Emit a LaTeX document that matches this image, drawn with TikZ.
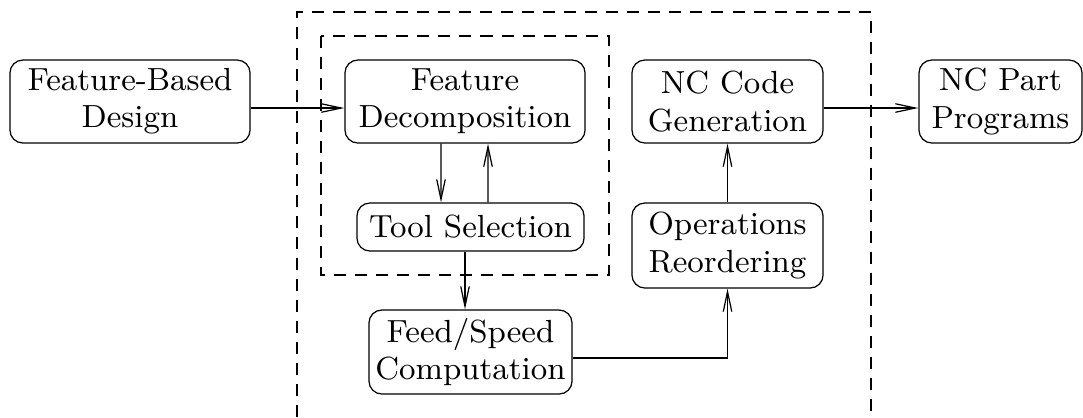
\documentclass[tikz,border=0pt]{standalone}
\usetikzlibrary{arrows.meta}

\begin{document}
\begin{tikzpicture}[x=0.01cm,y=-0.01cm,line width=0.35pt,
    blk/.style={draw,rounded corners=1.3mm,align=center,inner sep=0pt,
      font=\fontsize{9.1}{10.6}\selectfont},
    arr/.style={-{Straight Barb[length=2mm,width=0.85mm]}},
    frame/.style={line width=0.3pt,dash pattern=on 1.2mm off 0.9mm}]
  \useasboundingbox (0,0) rectangle (1083,417);

  % dashed frames
  \draw[frame] (297,417) -- (297,12) -- (871,12) -- (871,417);
  \draw[frame] (321,36) rectangle (609,275);

  \node[blk,minimum width=2.4cm,minimum height=0.83cm] (fb) at (130,101.5) {Feature-Based\\Design};
  \node[blk,minimum width=2.4cm,minimum height=0.83cm] (fd) at (465,101.5) {Feature\\Decomposition};
  \node[blk,minimum width=2.27cm,minimum height=0.48cm] (ts) at (470.5,227) {Tool Selection};
  \node[blk,minimum width=2.03cm,minimum height=0.84cm] (fs) at (470.5,352) {Feed/Speed\\Computation};
  \node[blk,minimum width=1.91cm,minimum height=0.85cm] (ops) at (727.5,245.5) {Operations\\Reordering};
  \node[blk,minimum width=1.91cm,minimum height=0.83cm] (ncc) at (727.5,101.5) {NC Code\\Generation};
  \node[blk,minimum width=1.63cm,minimum height=0.83cm] (ncp) at (1000.5,101.5) {NC Part\\Programs};

  \draw[arr] ([yshift=-0.65mm]fb.east) -- ([yshift=-0.65mm]fd.west);
  \draw[arr] ([xshift=-2.4mm]fd.south) -- ([xshift=-2.95mm]ts.north);
  \draw[arr] ([xshift=1.75mm]ts.north) -- ([xshift=2.3mm]fd.south);
  \draw[arr] ([xshift=-0.55mm]ts.south) -- ([xshift=-0.55mm]fs.north);
  \draw[arr] ([yshift=-0.6mm]fs.east) -| (ops.south);
  \draw[arr] (ops) -- (ncc);
  \draw[arr] ([yshift=-0.65mm]ncc.east) -- ([yshift=-0.65mm]ncp.west);

\end{tikzpicture}
\end{document}
